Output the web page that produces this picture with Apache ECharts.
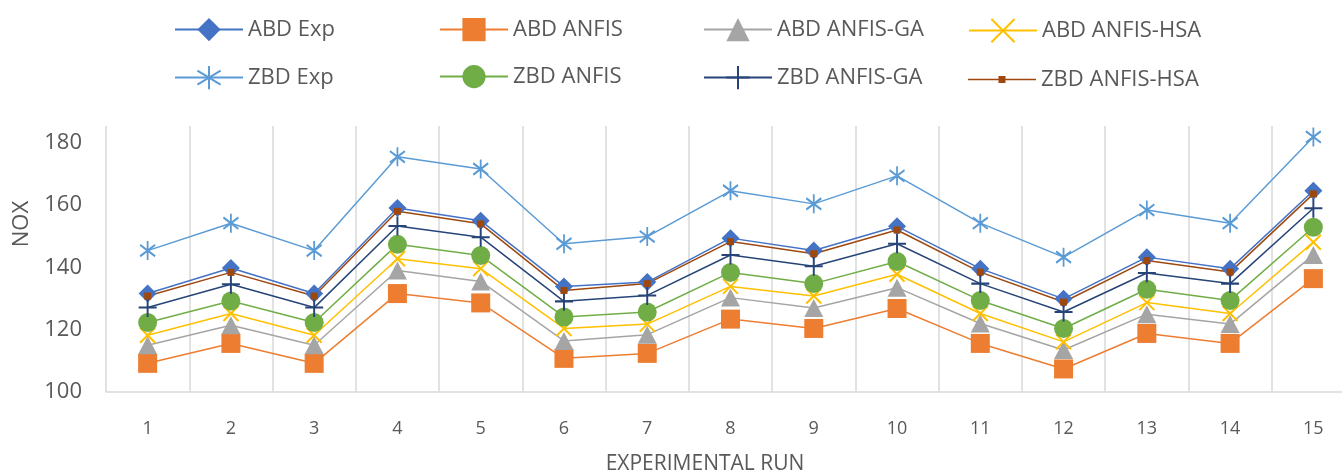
<!DOCTYPE html>
<html lang="en">
<head>
    <meta charset="UTF-8">
    <title>NOX by experimental run</title>
    <script src="https://cdn.jsdelivr.net/npm/echarts@6/dist/echarts.min.js"></script>
    <style>
        body { margin: 0; background: #fff; }
        #chart { width: 1342px; height: 476px; }
    </style>
</head>
<body>
    <div id="chart"></div>
    <script>
        const runs = ['1', '2', '3', '4', '5', '6', '7', '8', '9', '10', '11', '12', '13', '14', '15'];

        const abdExp      = [131.6, 139.8, 131.6, 159.1, 155.0, 133.9, 135.3, 149.4, 145.4, 153.2, 139.6, 129.9, 143.3, 139.6, 164.6];
        const abdAnfis    = [109.2, 115.6, 109.2, 131.6, 128.6, 110.8, 112.4, 123.4, 120.4, 126.8, 115.6, 107.4, 118.8, 115.6, 136.4];
        const abdAnfisGa  = [115.0, 121.4, 115.0, 139.0, 135.5, 116.4, 118.4, 130.3, 127.0, 133.5, 122.0, 113.5, 125.0, 121.8, 144.0];
        const abdAnfisHsa = [118.2, 125.2, 118.2, 142.8, 139.6, 120.4, 121.8, 133.9, 130.8, 137.8, 125.2, 116.1, 128.7, 125.2, 148.1];
        const zbdExp      = [145.4, 154.2, 145.4, 175.5, 171.6, 147.6, 149.9, 164.6, 160.4, 169.4, 154.2, 143.3, 158.4, 154.2, 181.9];
        const zbdAnfis    = [122.3, 129.2, 122.3, 147.4, 143.8, 124.1, 125.7, 138.4, 134.8, 141.9, 129.4, 120.4, 133.0, 129.4, 152.9];
        const zbdAnfisGa  = [127.1, 134.6, 127.1, 153.3, 149.7, 129.1, 131.0, 144.0, 140.4, 147.6, 134.8, 125.7, 138.2, 134.8, 159.0];
        const zbdAnfisHsa = [130.8, 138.4, 130.8, 158.0, 154.0, 132.6, 134.8, 148.3, 144.4, 152.0, 138.5, 128.9, 142.2, 138.5, 163.6];

        const FONT = 'Open Sans';
        const TEXT = '#595959';
        const GRID = '#D9D9D9';

        // stroked marker shapes
        const crossPath = 'path://M0,0L10,10M10,0L0,10';
        const plusPath = 'path://M0,5L10,5M5,0L5,10';
        const starPath = 'path://M5,0L5,10M0,2L10,8M10,2L0,8';
        // legend icon for the small-square series: thin line with a 7px square, padded to 68x29
        const smallSquareIcon = 'path://M0,0M68,29M0,13.75L30.5,13.75L30.5,11L37.5,11L37.5,13.75L68,13.75L68,15.25L37.5,15.25L37.5,18L30.5,18L30.5,15.25L0,15.25Z';

        function line(name, data, color, symbol, size, stroked) {
            return {
                name: name,
                type: 'line',
                data: data,
                symbol: symbol,
                symbolSize: size,
                showAllSymbol: true,
                lineStyle: { color: color, width: 1.5 },
                itemStyle: stroked
                    ? { color: color, borderColor: color, borderWidth: 2 }
                    : { color: color, borderWidth: 0 },
                emphasis: { disabled: true },
                animation: false
            };
        }

        function legendItem(name, left, top, icon) {
            const l = {
                left: left,
                top: top,
                data: [name],
                itemWidth: 68,
                itemHeight: 29,
                itemTextGap: 9,
                textStyle: { fontFamily: FONT, fontSize: 22, color: TEXT }
            };
            if (icon) l.icon = icon;
            return l;
        }

        const chart = echarts.init(document.getElementById('chart'));

        const option = {
            backgroundColor: '#fff',
            title: {
                text: 'EXPERIMENTAL RUN',
                left: 700,
                top: 449,
                textAlign: 'center',
                textStyle: { fontFamily: FONT, fontSize: 21, fontWeight: 'normal', color: TEXT }
            },
            legend: [
                legendItem('ABD Exp', 169, 13),
                legendItem('ABD ANFIS', 434, 13),
                legendItem('ABD ANFIS-GA', 698, 13),
                legendItem('ABD ANFIS-HSA', 963, 13),
                legendItem('ZBD Exp', 169, 60),
                legendItem('ZBD ANFIS', 434, 60),
                legendItem('ZBD ANFIS-GA', 698, 60),
                legendItem('ZBD ANFIS-HSA', 963, 60, smallSquareIcon)
            ],
            grid: {
                left: 106,
                right: -13,
                top: 126,
                bottom: 84,
                outerBoundsMode: 'none'
            },
            xAxis: {
                type: 'category',
                data: runs,
                boundaryGap: true,
                axisLine: { lineStyle: { color: GRID, width: 1.5 } },
                axisTick: { show: false },
                axisLabel: { interval: 0, margin: 28, fontFamily: FONT, fontSize: 18, color: TEXT },
                splitLine: { show: true, interval: 0, lineStyle: { color: GRID, width: 1.5 } }
            },
            yAxis: {
                type: 'value',
                name: 'NOX',
                nameLocation: 'middle',
                nameGap: 73,
                nameTextStyle: { fontFamily: FONT, fontSize: 22, color: TEXT, padding: [0, 0, 0, 70] },
                min: 100,
                max: 185.4,
                interval: 20,
                axisLine: { show: false },
                axisTick: { show: false },
                splitLine: { show: false },
                axisLabel: { margin: 24, showMaxLabel: false, fontFamily: FONT, fontSize: 22, color: TEXT }
            },
            series: [
                line('ABD Exp', abdExp, '#4472C4', 'diamond', 18, false),
                line('ABD ANFIS', abdAnfis, '#ED7D31', 'rect', 19, false),
                line('ABD ANFIS-GA', abdAnfisGa, '#A5A5A5', 'triangle', [19, 18], false),
                line('ABD ANFIS-HSA', abdAnfisHsa, '#FFC000', crossPath, 15, true),
                line('ZBD Exp', zbdExp, '#5B9BD5', starPath, [15, 19], true),
                line('ZBD ANFIS', zbdAnfis, '#70AD47', 'circle', 19, false),
                line('ZBD ANFIS-GA', zbdAnfisGa, '#264478', plusPath, [18, 19], true),
                line('ZBD ANFIS-HSA', zbdAnfisHsa, '#9E480E', 'rect', 7, false)
            ]
        };

        chart.setOption(option);
        window.addEventListener('resize', () => chart.resize());
    </script>
</body>
</html>
